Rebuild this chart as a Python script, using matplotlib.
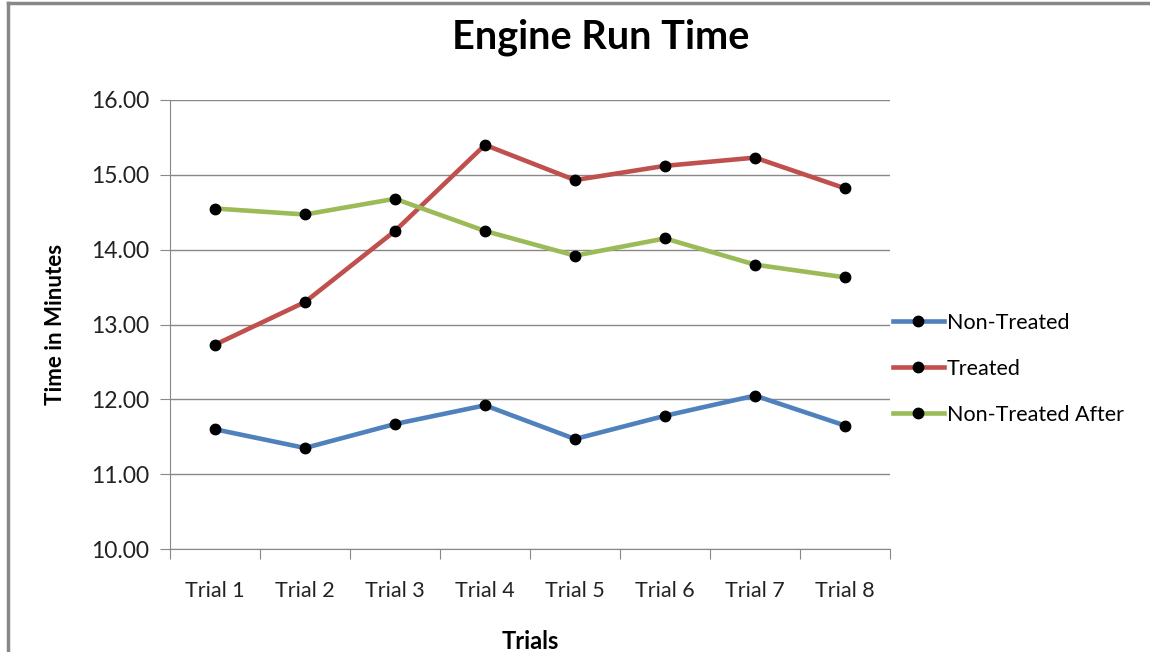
import matplotlib.pyplot as plt
import matplotlib.lines as mlines
import numpy as np

trials = ["Trial 1", "Trial 2", "Trial 3", "Trial 4", "Trial 5", "Trial 6", "Trial 7", "Trial 8"]
non_treated = [11.60, 11.35, 11.67, 11.92, 11.47, 11.78, 12.05, 11.65]
treated = [12.73, 13.30, 14.25, 15.40, 14.93, 15.12, 15.23, 14.82]
non_treated_after = [14.55, 14.47, 14.68, 14.25, 13.92, 14.15, 13.80, 13.63]

plt.rcParams["font.family"] = ["Lato", "DejaVu Sans"]

fig = plt.figure(figsize=(11.5, 6.52), dpi=100)
ax = fig.add_axes([170 / 1150, 103 / 652, 720 / 1150, 449 / 652])

x = np.arange(len(trials))
series = [
    (non_treated, "#4F81BD", "Non-Treated"),
    (treated, "#C0504D", "Treated"),
    (non_treated_after, "#9BBB59", "Non-Treated After"),
]
for vals, col, lab in series:
    ax.plot(x, vals, "-o", color=col, lw=3.3, marker="o", markersize=7.5,
            markerfacecolor="black", markeredgecolor="black", label=lab, zorder=3)

ax.set_xlim(-0.5, len(trials) - 0.5)
ax.set_ylim(10, 16)
ax.set_yticks(np.arange(10, 16.01, 1))
ax.set_yticklabels([f"{v:.2f}" for v in np.arange(10, 16.01, 1)], fontsize=16.5, color="#222222")
ax.yaxis.grid(True, color="#888888", lw=1)
ax.set_axisbelow(True)

ax.set_xticks(np.arange(-0.5, len(trials), 1))
ax.set_xticklabels([])
ax.set_xticks(x, minor=True)
ax.set_xticklabels(trials, minor=True, fontsize=15.5, color="#222222")
ax.tick_params(axis="x", which="major", length=7, color="#888888")
ax.tick_params(axis="x", which="minor", length=0, pad=23)
ax.tick_params(axis="y", length=7, color="#888888", pad=8)

for s in ["top", "right"]:
    ax.spines[s].set_visible(False)
for s in ["left", "bottom"]:
    ax.spines[s].set_color("#888888")

ax.set_xlabel("Trials", fontsize=17, fontweight="bold", labelpad=21)
ax.set_ylabel("Time in Minutes", fontsize=16, fontweight="bold", labelpad=18)

fig.text(601 / 1150, 1 - 37 / 652, "Engine Run Time", fontsize=28.5, fontweight="bold",
         ha="center", va="center")

ax.legend(loc="upper left", bbox_to_anchor=(893 / 1150, 1 - 313 / 652),
          bbox_transform=fig.transFigure, frameon=False, fontsize=15.5,
          handlelength=2.35, handletextpad=0.15, labelspacing=1.2, borderaxespad=0,
          borderpad=0)

fig.add_artist(mlines.Line2D([8 / 1150, 1], [1 - 3 / 652] * 2, color="#888888", lw=2.5))
fig.add_artist(mlines.Line2D([8 / 1150] * 2, [0, 1 - 3 / 652], color="#888888", lw=2.5))

fig.savefig("out.png", dpi=100)
